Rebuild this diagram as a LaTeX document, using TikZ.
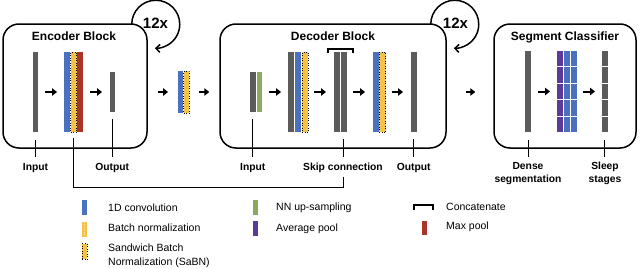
\documentclass[tikz,border=0pt]{standalone}
\usepackage{fontspec}
\setmainfont{Liberation Sans}
\usetikzlibrary{arrows.meta,calc}
\definecolor{cgray}{HTML}{5B5B5B}
\definecolor{cblue}{HTML}{4A70C0}
\definecolor{cyel}{HTML}{F5C243}
\definecolor{cred}{HTML}{A8342A}
\definecolor{cgreen}{HTML}{8AAA5E}
\definecolor{cpurple}{HTML}{5C3A98}
\newcommand{\mybar}[6]{\node[barbox,#6,minimum width={#3-#2},minimum height={#5-#4}] (#1) at ({(#2+#3)/2},{(#4+#5)/2}) {};}
\begin{document}
\begin{tikzpicture}[x=1pt,y=-1pt,
  barbox/.style={rectangle,inner sep=0pt,outer sep=0pt,draw=none},
  gbar/.style={fill=cgray},
  bbar/.style={fill=cblue},
  ybar/.style={fill=cyel,draw=black,dotted,line width=0.5pt},
  rbar/.style={fill=cred},
  grbar/.style={fill=cgreen},
  pbar/.style={fill=cpurple},
  blockbox/.style={draw=black,line width=1.5pt,rounded corners=16pt,inner sep=0pt},
  title/.style={font=\fontsize{12}{14}\selectfont\bfseries,anchor=base,inner sep=0pt},
  lab/.style={font=\fontsize{10.3}{13}\selectfont\bfseries,anchor=base,inner sep=0pt},
  leg/.style={font=\fontsize{10.5}{14}\selectfont,anchor=base west,inner sep=0pt},
  rep/.style={font=\fontsize{15}{16}\selectfont\bfseries,anchor=base,inner sep=0pt},
  flow/.style={line width=2pt,-{Triangle[length=5pt,width=7.5pt]}},
  loopar/.style={line width=1.5pt,-{Straight Barb[length=4pt,width=8pt]}},
  lbl/.style={line width=1pt},
  brk/.style={line width=2pt}]
\useasboundingbox (0,0) rectangle (640,268);

% reference rows
\coordinate (r138) at (0,138);
\coordinate (r139) at (0,139);
\coordinate (r140) at (0,140);
\coordinate (r157) at (0,157);
\coordinate (r170) at (0,170);
\coordinate (r177) at (0,177);
\coordinate (r182) at (0,182);
\coordinate (r187) at (0,187);
\coordinate (rmid) at (0,92);

% ---------- blocks ----------
\node[blockbox,minimum width=144pt,minimum height=124pt] (ebox) at (75,86) {};
\node[blockbox,minimum width=226pt,minimum height=124pt] (dbox) at (333,86) {};
\node[blockbox,minimum width=142pt,minimum height=124pt] (cbox) at (565,86) {};
\node[title] (etitle) at (74,40) {Encoder Block};
\node[title] (dtitle) at (333,40) {Decoder Block};
\node[title] (ctitle) at (565,40) {Segment Classifier};

% repeat loops
\coordinate (eloop) at ($(ebox.north east)+(-16,1)$);
\draw[loopar] (eloop) arc[start angle=180,end angle=452,radius=24];
\node[rep] (erep) at (155.5,28.5) {12x};
\coordinate (dloop) at ($(dbox.north east)+(-16,1)$);
\draw[loopar] (dloop) arc[start angle=180,end angle=452,radius=24];
\node[rep] (drep) at (455.5,28.5) {12x};

% side anchors at arrow height
\coordinate (eexit) at (ebox.east |- rmid);
\coordinate (dentry) at (dbox.west |- rmid);
\coordinate (dexit) at (dbox.east |- rmid);
\coordinate (centry) at (cbox.west |- rmid);

% ---------- encoder ----------
\mybar{ein}{33}{38}{52}{132}{gbar}
\mybar{ecb}{64}{70}{52}{132}{bbar}
\mybar{ecy}{70.5}{76.5}{52}{132}{ybar}
\mybar{ecr}{77}{83}{52}{132}{rbar}
\mybar{eout}{109.5}{115}{72}{112}{gbar}
\draw[flow] ([xshift=7pt]ein.east) -- ([xshift=-7pt]ecb.west);
\draw[flow] ([xshift=7pt]ecr.east) -- ([xshift=-7.5pt]eout.west);

% ---------- between ----------
\mybar{mb}{178}{183}{71}{113}{bbar}
\mybar{my}{183.5}{189}{71}{113}{ybar}
\draw[flow] ([xshift=10pt]eexit) -- ([xshift=-10pt]mb.west);
\draw[flow] ([xshift=10pt]my.east) -- ([xshift=-10pt]dentry);

% ---------- decoder ----------
\mybar{din}{250}{255.5}{72}{112}{gbar}
\mybar{dgr}{256.5}{262}{72}{112}{grbar}
\mybar{dg}{288}{294}{52}{132}{gbar}
\mybar{db}{295}{301}{52}{132}{bbar}
\mybar{dy}{302}{308}{52}{132}{ybar}
\mybar{dcat1}{334}{339.5}{52}{132}{gbar}
\mybar{dcat2}{341}{346.5}{52}{132}{gbar}
\mybar{db2}{372.5}{378.5}{52}{132}{bbar}
\mybar{dy2}{379}{385.5}{52}{132}{ybar}
\mybar{dout}{411}{416.5}{52}{132}{gbar}
\draw[flow] ([xshift=7pt]dgr.east) -- ([xshift=-7pt]dg.west);
\draw[flow] ([xshift=6pt]dy.east) -- ([xshift=-8pt]dcat1.west);
\draw[flow] ([xshift=6.5pt]dcat2.east) -- ([xshift=-7.5pt]db2.west);
\draw[flow] ([xshift=6.5pt]dy2.east) -- ([xshift=-8pt]dout.west);
\draw[brk] ($(dcat1.north west)+(-6,1)$) |- ($(dcat2.north east)+(6.5,-3.5)$) -- ++(0,4.5);
\draw[flow] ([xshift=19pt]dexit) -- ([xshift=-18pt]centry);

% ---------- classifier ----------
\mybar{cdense}{525}{531}{51}{132}{gbar}
\foreach \i in {0,...,4}{
  \pgfmathsetmacro\yt{51+\i*16.44}
  \pgfmathsetmacro\yb{\yt+15.24}
  \mybar{cp\i}{556.5}{562.5}{\yt}{\yb}{pbar}
  \mybar{cba\i}{563.5}{569.5}{\yt}{\yb}{bbar}
  \mybar{cbb\i}{570.5}{576.5}{\yt}{\yb}{bbar}
  \mybar{cs\i}{601.5}{607.5}{\yt}{\yb}{gbar}
}
\draw[flow] ([xshift=7pt]cdense.east) -- ([xshift=-6.5pt]cp2.west);
\draw[flow] ([xshift=6.5pt]cbb2.east) -- ([xshift=-6.5pt]cs2.west);

% ---------- label lines ----------
\draw[lbl] (ein |- r140) -- (ein |- r157);
\draw[lbl] ($(eout.south)+(0,7)$) -- (eout |- r157);
\coordinate (dskip) at (dcat2 |- r177);
\draw[lbl] (ecy |- r138) -- (ecy |- r187) -| (dskip);
\draw[lbl] ($(din.south)+(0,7)$) -- (din |- r157);
\draw[lbl] (dcat2 |- r139) -- (dcat2 |- r157);
\draw[lbl] (dout |- r139) -- (dout |- r157);
\draw[lbl] (cdense |- r140) -- (cdense |- r157);
\draw[lbl] (cs4 |- r140) -- (cs4 |- r157);

% ---------- labels ----------
\node[lab] (linE) at (ein |- r170) {Input};
\node[lab] (loutE) at (eout |- r170) {Output};
\node[lab] (linD) at (din |- r170) {Input};
\node[lab] (lskip) at (343,170) {Skip connection};
\node[lab] (loutD) at (dout |- r170) {Output};
\node[lab] (ldense1) at (528,169.5) {Dense};
\node[lab] (ldense2) at (528,182) {segmentation};
\node[lab] (lsleep1) at (605,169.5) {Sleep};
\node[lab] (lsleep2) at (605,182) {stages};

% ---------- legend ----------
\mybar{kconv}{82}{87}{200}{215}{bbar}
\node[leg] (tconv) at (108,211) {1D convolution};
\mybar{kbn}{82}{87}{221.5}{236.5}{fill=cyel}
\draw[white,dotted,line width=0.5pt,opacity=0.6] (kbn.north) -- (kbn.south);
\node[leg] (tbn) at (108,231.8) {Batch normalization};
\mybar{ksabn}{82}{87}{243.5}{259}{ybar}
\node[leg] (tsabn1) at (108,251.8) {Sandwich Batch};
\node[leg] (tsabn2) at (108,265.5) {Normalization (SaBN)};
\mybar{kup}{253}{258}{200}{215}{grbar}
\node[leg] (tup) at (276,210.5) {NN up-sampling};
\mybar{kavg}{253}{258}{221}{236}{pbar}
\node[leg] (tavg) at (276,231.8) {Average pool};
\draw[brk] (414,210) -- (414,204.5) -- (433,204.5) -- (433,210);
\node[leg] (tcat) at (446,210) {Concatenate};
\mybar{kmax}{421.5}{426.5}{221}{235}{rbar}
\node[leg] (tmax) at (446,229.8) {Max pool};
\end{tikzpicture}
\end{document}
